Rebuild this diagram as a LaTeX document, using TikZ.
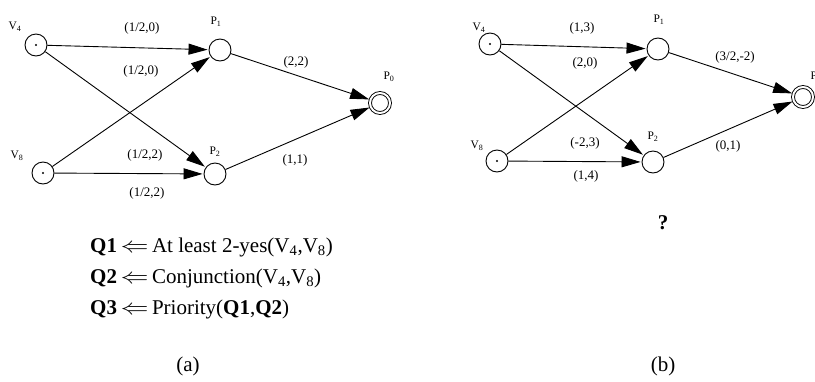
\documentclass[tikz,border=0pt]{standalone}
\usepackage{fontspec}
\setmainfont{Liberation Serif}
\usetikzlibrary{arrows.meta}
\newcommand{\qarrow}{\,\scalebox{1.35}[1.05]{$\Leftarrow$}\,}
\begin{document}
\begin{tikzpicture}[x=1pt,y=-1pt,
  vnode/.style={circle,draw,line width=0.9pt,minimum size=22pt,inner sep=0pt},
  pnode/.style={circle,draw,line width=0.9pt,minimum size=22pt,inner sep=0pt},
  fnode/.style={circle,draw,double,double distance=2pt,line width=0.9pt,minimum size=20pt,inner sep=0pt},
  arr/.style={-{Triangle[length=19pt,width=11pt]},line width=0.9pt,shorten >=1pt},
  nlab/.style={font=\fontsize{11.5}{13}\selectfont,inner sep=0pt},
  elab/.style={font=\fontsize{13}{15}\selectfont,inner sep=0pt},
  qline/.style={font=\fontsize{21}{24}\selectfont,anchor=west,inner sep=0pt},
  captext/.style={font=\fontsize{21}{24}\selectfont,inner sep=0pt}]
\useasboundingbox (0,0) rectangle (815,381);
% ---------- (a) ----------
\node[vnode] (av4) at (36,45) {};
\node[vnode] (av8) at (43,173) {};
\node[pnode] (ap1) at (220,50) {};
\node[pnode] (ap2) at (215,174) {};
\node[fnode] (ap0) at (380,103) {};
\fill (av4.center) circle (1.2pt);
\fill (av8.center) circle (1.2pt);
\node[nlab] (lav4) at (15,27) {V\textsubscript{4}};
\node[nlab] (lav8) at (17,156) {V\textsubscript{8}};
\node[nlab] (lap1) at (216,22) {P\textsubscript{1}};
\node[nlab] (lap2) at (215,152) {P\textsubscript{2}};
\node[nlab] (lap0) at (389,77) {P\textsubscript{0}};
\draw[arr] (av4) -- (ap1);
\draw[arr] (av4) -- (ap2);
\draw[arr] (av8) -- (ap1);
\draw[arr] (av8) -- (ap2);
\draw[arr] (ap1) -- (ap0);
\draw[arr] (ap2) -- (ap0);
\node[elab] (ea1) at (142,28) {(1/2,0)};
\node[elab] (ea2) at (141,71) {(1/2,0)};
\node[elab] (ea3) at (296,62) {(2,2)};
\node[elab] (ea4) at (145,155) {(1/2,2)};
\node[elab] (ea5) at (147,193) {(1/2,2)};
\node[elab] (ea6) at (295,160) {(1,1)};
\node[qline] (q1) at (90,247) {\textbf{Q1}\qarrow At least 2-yes(V\textsubscript{4},V\textsubscript{8})};
\node[qline] (q2) at (90,278) {\textbf{Q2}\qarrow Conjunction(V\textsubscript{4},V\textsubscript{8})};
\node[qline] (q3) at (90,309) {\textbf{Q3}\qarrow Priority(\textbf{Q1},\textbf{Q2})};
\node[captext] (capa) at (188,366) {(a)};
% ---------- (b) ----------
\node[vnode] (bv4) at (490,44) {};
\node[vnode] (bv8) at (497,161) {};
\node[pnode] (bp1) at (658,49) {};
\node[pnode] (bp2) at (653,162) {};
\node[fnode] (bp0) at (803,97) {};
\fill (bv4.center) circle (1.2pt);
\fill (bv8.center) circle (1.2pt);
\node[nlab] (lbv4) at (479,28) {V\textsubscript{4}};
\node[nlab] (lbv8) at (477,146) {V\textsubscript{8}};
\node[nlab] (lbp1) at (659,20) {P\textsubscript{1}};
\node[nlab] (lbp2) at (653,137) {P\textsubscript{2}};
\node[nlab] (lbp0) at (816,77) {P\textsubscript{0}};
\draw[arr] (bv4) -- (bp1);
\draw[arr] (bv4) -- (bp2);
\draw[arr] (bv8) -- (bp1);
\draw[arr] (bv8) -- (bp2);
\draw[arr] (bp1) -- (bp0);
\draw[arr] (bp2) -- (bp0);
\node[elab] (eb1) at (582,28) {(1,3)};
\node[elab] (eb2) at (585,63) {(2,0)};
\node[elab] (eb3) at (735,57) {(3/2,-2)};
\node[elab] (eb4) at (585,143) {(-2,3)};
\node[elab] (eb5) at (586,176) {(1,4)};
\node[elab] (eb6) at (728,146) {(0,1)};
\node[font=\fontsize{21}{24}\selectfont\bfseries,inner sep=0pt] (qm) at (663,223) {?};
\node[captext] (capb) at (663,366) {(b)};
\end{tikzpicture}
\end{document}
